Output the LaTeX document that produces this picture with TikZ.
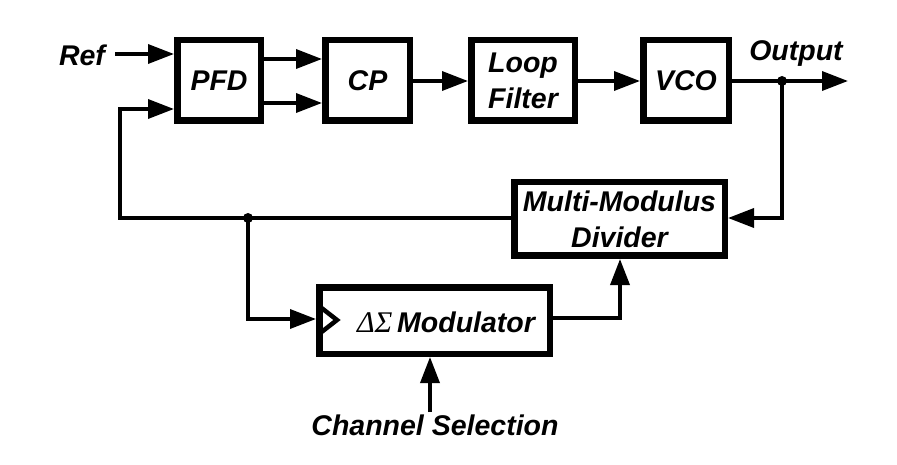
\documentclass[tikz,border=0pt]{standalone}
\usepackage{fontspec}
\setmainfont{Liberation Sans}
\newfontfamily\greekserif{Liberation Serif}
\usetikzlibrary{arrows.meta}
\tikzset{
  blk/.style={draw, line width=6.5pt, inner sep=0pt, align=center,
    font=\fontsize{28.5}{36}\selectfont\bfseries\itshape},
  lbl/.style={inner sep=0pt, font=\fontsize{28.5}{36}\selectfont\bfseries\itshape},
  wire/.style={line width=3.5pt},
  arr/.style={wire, -{Triangle[length=26pt,width=19pt]}},
  dot/.style={circle, fill, inner sep=0pt, minimum size=10pt}
}
\begin{document}
\begin{tikzpicture}[x=1pt,y=-1pt]
\useasboundingbox (0,0) rectangle (897,465);
% blocks
\node[blk, minimum width=83.5pt, minimum height=80.5pt] (pfd) at (219,80.5) {PFD};
\node[blk, minimum width=84.5pt, minimum height=80.5pt] (cp) at (367.5,80.5) {CP};
\node[blk, minimum width=103.5pt, minimum height=80.5pt] (lf) at (523,80.5) {Loop\\Filter};
\node[blk, minimum width=85.5pt, minimum height=80.5pt] (vco) at (686,80.5) {VCO};
\node[blk, minimum width=210.5pt, minimum height=73.5pt] (mmd) at (619.5,219) {Multi-Modulus\\Divider};
\node[blk, minimum width=230.5pt, minimum height=66.5pt] (mod) at (434.5,320.5) {};
\node[lbl, anchor=center] (modt) at (446,322) {{\greekserif\mdseries\itshape\fontsize{30}{36}\selectfont ΔΣ}\,Modulator};
% labels
\node[lbl] (ref) at (82,55) {Ref};
\node[lbl] (out) at (796,54) {Output};
\node[lbl] (chs) at (435,425) {Channel Selection};
% coordinates
\coordinate (refs) at (115,54);
\coordinate (fbl) at (120,218);
\coordinate (fbj) at (248,218);
\coordinate (oj) at (782,81);
\coordinate (oe) at (848,81);
\coordinate (cs) at (430,412);
% top chain
\draw[arr] (refs) -- (pfd.west |- refs);
\draw[arr] (pfd.east |- 0,59) -- (cp.west |- 0,59);
\draw[arr] (pfd.east |- 0,103) -- (cp.west |- 0,103);
\draw[arr] (cp.east |- 0,81) -- (lf.west |- 0,81);
\draw[arr] (lf.east |- 0,81) -- (vco.west |- 0,81);
\draw[arr] (vco.east |- oe) -- (oe);
\node[dot] at (oj) {};
\draw[arr] (oj) |- (mmd.east |- 0,218);
% feedback
\draw[wire] (mmd.west |- fbl) -- (fbl) -- (120,109);
\draw[arr] (118.25,109) -- (pfd.west |- 0,109);
\node[dot] at (fbj) {};
\draw[arr] (fbj) |- (mod.west |- 0,319);
% modulator to divider
\draw[arr] (mod.east |- 0,318) -| (mmd.south -| 620,0);
% channel selection
\draw[arr] (cs) -- (mod.south -| cs);
% clock triangle
\draw[line width=4.5pt, line join=miter] (319,306) -- (337,320) -- (319,334);
\end{tikzpicture}
\end{document}
